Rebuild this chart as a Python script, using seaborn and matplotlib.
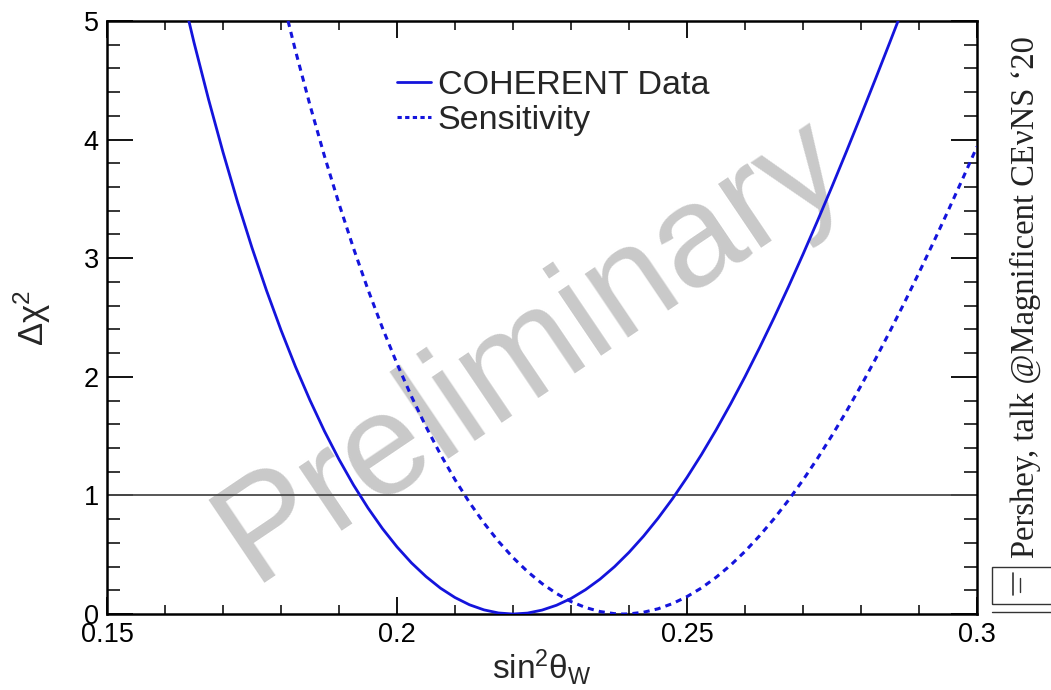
import matplotlib
matplotlib.use("Agg")
import matplotlib.pyplot as plt
from matplotlib.lines import Line2D
from matplotlib.patches import Rectangle
from matplotlib.ticker import MultipleLocator, FixedLocator
import pandas as pd
import seaborn as sns

# Delta chi^2 scan versus the weak mixing angle
sin2w_data = [0.160, 0.1625, 0.165, 0.1675, 0.170, 0.1725, 0.175, 0.1775, 0.180,
              0.1825, 0.185, 0.1875, 0.190, 0.1925, 0.195, 0.1975, 0.200, 0.2025,
              0.205, 0.2075, 0.210, 0.2125, 0.215, 0.2175, 0.220, 0.2225, 0.225,
              0.2275, 0.230, 0.2325, 0.235, 0.2375, 0.240, 0.2425, 0.245, 0.2475,
              0.250, 0.2525, 0.255, 0.2575, 0.260, 0.2625, 0.265, 0.2675, 0.270,
              0.2725, 0.275, 0.2775, 0.280, 0.2825, 0.285, 0.2875, 0.290]
dchi2_data = [5.876, 5.331, 4.819, 4.341, 3.894, 3.476, 3.088, 2.728, 2.394,
              2.085, 1.802, 1.541, 1.304, 1.088, 0.894, 0.720, 0.566, 0.431,
              0.316, 0.218, 0.139, 0.078, 0.035, 0.009, 0.000, 0.008, 0.033,
              0.074, 0.131, 0.205, 0.294, 0.399, 0.520, 0.656, 0.807, 0.972,
              1.152, 1.345, 1.551, 1.770, 2.001, 2.244, 2.497, 2.760, 3.033,
              3.315, 3.604, 3.901, 4.204, 4.512, 4.824, 5.140, 5.458]

sin2w_sens = [0.1775, 0.180, 0.1825, 0.185, 0.1875, 0.190, 0.1925, 0.195, 0.1975,
              0.200, 0.2025, 0.205, 0.2075, 0.210, 0.2125, 0.215, 0.2175, 0.220,
              0.2225, 0.225, 0.2275, 0.230, 0.2325, 0.235, 0.2375, 0.239, 0.240,
              0.2425, 0.245, 0.2475, 0.250, 0.2525, 0.255, 0.2575, 0.260, 0.2625,
              0.265, 0.2675, 0.270, 0.2725, 0.275, 0.2775, 0.280, 0.2825, 0.285,
              0.2875, 0.290, 0.2925, 0.295, 0.2975, 0.300]
dchi2_sens = [5.760, 5.239, 4.749, 4.290, 3.860, 3.459, 3.084, 2.735, 2.411,
              2.111, 1.834, 1.579, 1.346, 1.133, 0.940, 0.767, 0.612, 0.476,
              0.358, 0.257, 0.173, 0.105, 0.055, 0.021, 0.003, 0.000, 0.001,
              0.015, 0.044, 0.088, 0.147, 0.220, 0.309, 0.411, 0.528, 0.659,
              0.803, 0.960, 1.130, 1.312, 1.506, 1.710, 1.925, 2.150, 2.385,
              2.627, 2.878, 3.135, 3.398, 3.667, 3.940]

series_labels = ["COHERENT Data", "Sensitivity"]
x_ticks = [0.15, 0.2, 0.25, 0.3]
x_tick_labels = ["0.15", "0.2", "0.25", "0.3"]
y_ticks = [0, 1, 2, 3, 4, 5]
ref_level = 1.0

sns.set_theme(style="white")
plt.rcParams["font.family"] = ["Liberation Sans", "DejaVu Sans"]
plt.rcParams["mathtext.fontset"] = "custom"
plt.rcParams["mathtext.rm"] = "Liberation Sans"
plt.rcParams["mathtext.it"] = "Liberation Sans:italic"
plt.rcParams["mathtext.bf"] = "Liberation Sans:bold"

blue = "#1414dc"

fig = plt.figure(figsize=(10.51, 6.90), dpi=100)
fig.patch.set_facecolor("white")
ax = fig.add_axes([0.1018, 0.1101, 0.8278, 0.8595])

df_data = pd.DataFrame({"x": sin2w_data, "y": dchi2_data})
df_sens = pd.DataFrame({"x": sin2w_sens, "y": dchi2_sens})

# watermark behind the curves
ax.text(0.487, 0.445, "Preliminary", transform=ax.transAxes, rotation=34,
        ha="center", va="center", fontsize=104, color="#c9c9c9", zorder=0)

ax.axhline(ref_level, color="#4a4a4a", lw=1.3, zorder=1)

sns.lineplot(data=df_data, x="x", y="y", ax=ax, color=blue, lw=2.0,
             sort=True, zorder=3)
sns.lineplot(data=df_sens, x="x", y="y", ax=ax, color=blue, lw=2.2,
             linestyle=(0, (2.0, 1.7)), sort=True, zorder=3)

ax.set_xlim(x_ticks[0], x_ticks[-1])
ax.set_ylim(y_ticks[0], y_ticks[-1])

ax.xaxis.set_major_locator(FixedLocator(x_ticks))
ax.set_xticklabels(x_tick_labels)
ax.xaxis.set_minor_locator(MultipleLocator(0.01))
ax.yaxis.set_major_locator(FixedLocator(y_ticks))
ax.yaxis.set_minor_locator(MultipleLocator(0.2))

ax.tick_params(axis="x", which="major", direction="in", length=12.5, width=1.3,
               top=True, bottom=True, labelsize=19.5, pad=6, colors="black")
ax.tick_params(axis="x", which="minor", direction="in", length=6.2, width=1.3,
               top=True, bottom=True)
ax.tick_params(axis="y", which="major", direction="in", length=18.5, width=1.3,
               left=True, right=True, labelsize=19.5, pad=6, colors="black")
ax.tick_params(axis="y", which="minor", direction="in", length=9.3, width=1.3,
               left=True, right=True)

for sp in ax.spines.values():
    sp.set_linewidth(1.8)
    sp.set_color("black")
    sp.set_visible(True)

ax.set_xlabel(r"sin$^{2}$θ$_{\mathrm{W}}$", fontsize=24, labelpad=-1)
ax.set_ylabel(r"$\mathrm{\Delta\chi}^{2}$", fontsize=25, labelpad=22)

handles = [Line2D([], [], color=blue, lw=2.0),
           Line2D([], [], color=blue, lw=2.2, linestyle=(0, (1.4, 1.1)))]
ax.legend(handles, series_labels, loc="center left",
          bbox_to_anchor=(0.333, 0.862), frameon=False, fontsize=24.5,
          handlelength=1.0, handletextpad=0.2, labelspacing=0.12,
          borderaxespad=0.0, borderpad=0.0)

# credit line along the right margin
fig.text(0.9760, 0.192, "Pershey, talk @Magnificent CEνNS \u201820",
         rotation=90, ha="center", va="bottom", fontsize=23.5,
         family=["Liberation Serif", "DejaVu Serif"], color="#222222")

# small slide widget in the lower right corner
fig.add_artist(Rectangle((0.9439, 0.1246), 0.07, 0.053, transform=fig.transFigure,
                         fill=False, edgecolor="#333333", lw=1.0))
fig.add_artist(Line2D([0.9439, 1.0], [0.1130, 0.1130], transform=fig.transFigure,
                      color="#333333", lw=1.0))
fig.add_artist(Line2D([0.9639, 0.9639], [0.1377, 0.1696], transform=fig.transFigure,
                      color="#333333", lw=1.2))
fig.add_artist(Line2D([0.9705, 0.9705], [0.1420, 0.1623], transform=fig.transFigure,
                      color="#333333", lw=1.0))

fig.savefig("out.png", dpi=100, facecolor="white")
